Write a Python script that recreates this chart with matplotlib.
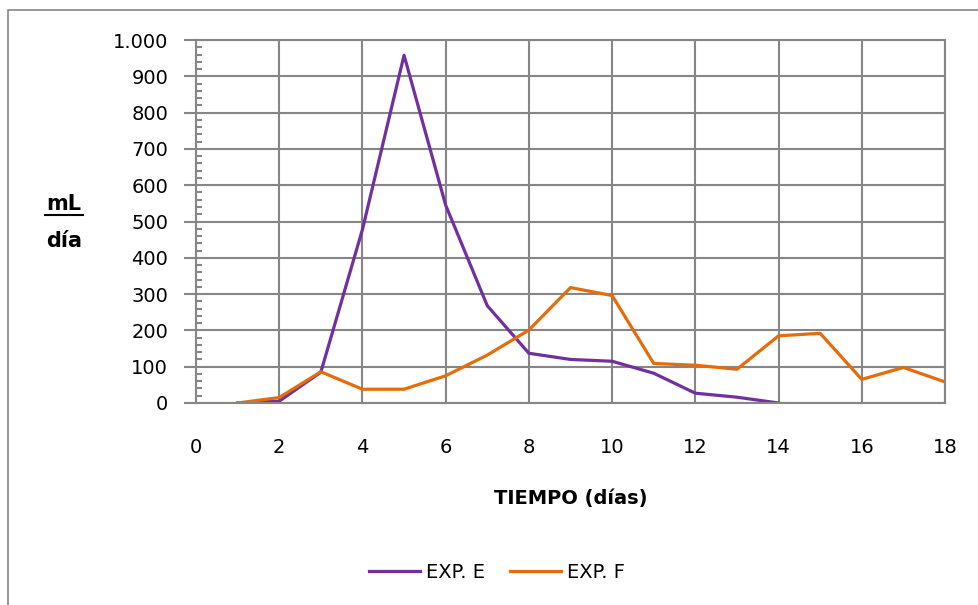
import matplotlib
matplotlib.use("Agg")
import matplotlib.pyplot as plt
from matplotlib.ticker import MultipleLocator, FuncFormatter
from matplotlib.lines import Line2D
from matplotlib.patches import Rectangle

plt.rcParams['font.family'] = ['DejaVu Sans']

dias_e = [1, 2, 3, 4, 5, 6, 7, 8, 9, 10, 11, 12, 13, 14]
exp_e = [0, 5, 85, 478, 958, 545, 268, 137, 120, 115, 82, 27, 16, 0]

dias_f = [1, 2, 3, 4, 5, 6, 7, 8, 9, 10, 11, 12, 13, 14, 15, 16, 17, 18]
exp_f = [0, 15, 86, 38, 38, 75, 132, 201, 318, 296, 109, 104, 93, 185, 192, 65, 98, 58]

grey = '#868686'

fig = plt.figure(figsize=(9.79, 6.05), dpi=100)
# outer chart border (cut by the image edges)
fig.patches.append(Rectangle((8 / 979, -0.1), 1.2, (605 - 10) / 605 + 0.1,
                             transform=fig.transFigure, fill=False,
                             edgecolor=grey, linewidth=1.2))

ax = fig.add_axes([196 / 979, 1 - 403 / 605, (945 - 196) / 979, (403 - 40) / 605])
ax.plot(dias_e, exp_e, color='#7030A0', lw=2.3, label='EXP. E')
ax.plot(dias_f, exp_f, color='#E46C0A', lw=2.3, label='EXP. F')

ax.set_xlim(0, 18)
ax.set_ylim(0, 1000)
ax.xaxis.set_major_locator(MultipleLocator(2))
ax.yaxis.set_major_locator(MultipleLocator(100))
ax.yaxis.set_minor_locator(MultipleLocator(20))
ax.yaxis.set_major_formatter(FuncFormatter(lambda v, p: f'{int(v):,}'.replace(',', '.')))
ax.grid(True, which='major', color=grey, lw=1.5)
ax.set_axisbelow(True)
for s in ax.spines.values():
    s.set_color(grey)
    s.set_linewidth(1.5)
ax.tick_params(axis='x', length=0, pad=25, labelsize=14)
ax.tick_params(axis='y', which='major', direction='out', length=9, width=1.5,
               color=grey, pad=11, labelsize=14)
ax.tick_params(axis='y', which='minor', direction='in', length=4, width=1.5, color=grey)

ax.set_xlabel('TIEMPO (días)', fontsize=14, fontweight='bold', labelpad=23)

fig.text(64 / 979, 1 - 204 / 605, 'mL', ha='center', va='center', fontsize=15, fontweight='bold')
fig.text(64 / 979, 1 - 241 / 605, 'día', ha='center', va='center', fontsize=15, fontweight='bold')
fig.lines.append(Line2D([45 / 979, 83 / 979], [1 - 215 / 605, 1 - 215 / 605],
                        transform=fig.transFigure, color='black', lw=1.5))

fig.legend(loc='center', bbox_to_anchor=(497 / 979, 1 - 572 / 605), ncol=2,
           frameon=False, fontsize=14, handlelength=2.6, columnspacing=1.3,
           handletextpad=0.3)

fig.savefig('out.png', dpi=100)
